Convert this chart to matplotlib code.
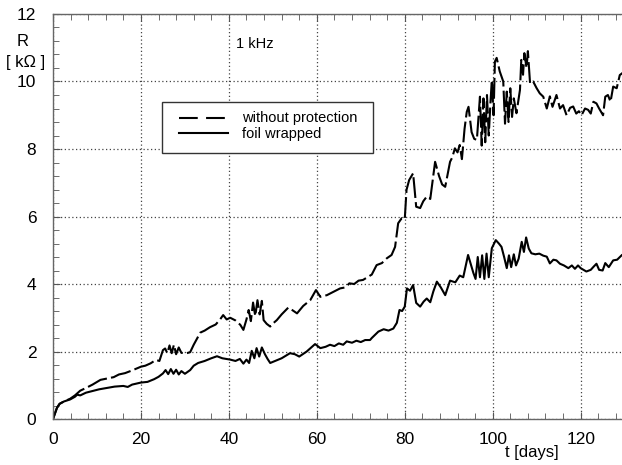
import numpy as np
import matplotlib.pyplot as plt
from matplotlib.patches import Rectangle
from matplotlib.ticker import MultipleLocator

plt.rcParams['font.family'] = ['Liberation Sans', 'DejaVu Sans']

# foil wrapped sample, resistance at 1 kHz
t_foil = [0, 0.4, 0.9, 1.5, 2.5, 3.9, 5, 5.5, 6.2, 7.5, 9, 10.5, 12.2, 14, 16, 17, 18, 20, 21.5, 23, 24, 25,
          25.6, 26.2, 26.8, 27.4, 28, 28.6, 29.2, 30, 31.2, 32, 33, 34.5, 36, 37.3, 38.5, 40.3, 41.5, 42.5,
          43.3, 44, 44.6, 45.2, 45.8, 46.3, 46.9, 47.5, 48.2, 48.8, 49.4, 50.5, 52, 53.9, 55, 56, 57.7, 59.6,
          60.8, 62, 63, 64, 65, 66, 66.8, 68, 69, 70, 71, 72.1, 72.5, 74, 75.2, 76.3, 77.4, 78.2, 78.8, 79.4,
          80, 80.5, 81.2, 81.9, 82.6, 83.5, 84.3, 85, 85.8, 86.5, 87.3, 88.2, 89.2, 90.3, 91.5, 92.5, 93.3,
          94.4, 95.6, 96.1, 96.6, 97.1, 97.6, 98.1, 98.6, 99.1, 99.8, 100.7, 101.4, 102, 102.6, 103.2, 103.7,
          104.2, 104.8, 105.3, 105.9, 106.6, 107.1, 107.6, 108.2, 108.8, 109.7, 110.6, 111.5, 112.3, 113,
          113.8, 114.5, 115.3, 116.2, 117.2, 118, 118.7, 119.4, 120, 121.3, 122.3, 123, 123.6, 124.2, 125,
          125.6, 126.4, 127.4, 128.3, 129.4, 130]
r_foil = [0.0, 0.15, 0.33, 0.45, 0.52, 0.58, 0.66, 0.72, 0.70, 0.78, 0.83, 0.88, 0.92, 0.96, 0.98, 0.95, 1.02,
          1.08, 1.10, 1.18, 1.25, 1.35, 1.45, 1.33, 1.48, 1.34, 1.46, 1.32, 1.42, 1.34, 1.45, 1.58, 1.66, 1.72,
          1.80, 1.86, 1.80, 1.76, 1.72, 1.78, 1.64, 1.76, 1.66, 2.02, 1.80, 2.10, 1.85, 2.12, 1.92, 1.78, 1.66,
          1.72, 1.80, 1.95, 1.92, 1.85, 2.00, 2.22, 2.10, 2.14, 2.20, 2.16, 2.24, 2.20, 2.30, 2.26, 2.32, 2.28,
          2.34, 2.34, 2.40, 2.59, 2.66, 2.62, 2.68, 2.85, 3.23, 3.20, 3.33, 3.87, 3.80, 3.97, 3.44, 3.33, 3.48,
          3.57, 3.46, 3.78, 4.07, 3.90, 3.67, 4.10, 4.05, 4.25, 4.20, 4.86, 4.33, 4.15, 4.80, 4.20, 4.85, 4.15,
          4.90, 4.20, 5.06, 5.30, 5.20, 5.10, 4.80, 4.47, 4.85, 4.50, 4.88, 4.55, 4.75, 5.25, 4.95, 5.38, 5.05,
          4.91, 4.88, 4.90, 4.84, 4.81, 4.61, 4.72, 4.70, 4.60, 4.55, 4.47, 4.55, 4.45, 4.55, 4.47, 4.37, 4.42,
          4.52, 4.60, 4.42, 4.40, 4.62, 4.50, 4.70, 4.72, 4.86, 4.90]

# unprotected sample
t_bare = [0, 0.4, 0.9, 1.5, 2.5, 3.9, 5, 6.2, 7.5, 9, 10.8, 12.3, 13.8, 15, 16.4, 18, 20, 21, 22.2, 23.4, 24.2,
          25, 25.5, 26, 26.5, 27, 27.5, 28, 28.6, 29.2, 30.4, 31.2, 32, 33.5, 34.5, 35.7, 37, 38, 38.7, 39.5,
          40.3, 41.5, 42.6, 43.3, 44, 44.5, 45, 45.5, 46, 46.5, 47, 47.5, 47.9, 48.6, 49.4, 50.2, 50.9, 52,
          53.5, 54.5, 55.5, 56.9, 58.5, 59.8, 60.8, 62.3, 63.8, 65.3, 66.5, 67.4, 68.5, 69.5, 70.5, 71.5, 72.5,
          73.6, 74.8, 75.9, 77, 77.8, 78.2, 78.5, 79.3, 80, 80.4, 81, 81.9, 82.6, 83.5, 84.2, 85, 85.8, 86.9,
          87.8, 88.5, 89.2, 90.3, 90.8, 91.4, 92, 92.5, 93, 93.6, 94.1, 94.5, 95.2, 95.8, 96.4, 97.1, 97.5,
          97.9, 98.3, 98.7, 99.1, 99.5, 99.8, 100.2, 100.5, 100.9, 101.6, 102.4, 102.8, 103.2, 103.6, 104.0,
          104.4, 104.8, 105.4, 106.2, 106.5, 106.9, 107.2, 107.7, 108, 108.5, 109.2, 110, 110.7, 111.5, 112.3,
          113, 113.6, 114.5, 115.3, 116, 116.8, 117.6, 118.3, 119, 119.6, 120.2, 121, 121.7, 122.3, 122.9,
          123.6, 124.2, 125.1, 125.6, 126.2, 126.8, 127.4, 128.2, 128.9, 129.5, 130]
r_bare = [0.0, 0.15, 0.33, 0.45, 0.52, 0.60, 0.70, 0.84, 0.92, 1.02, 1.16, 1.20, 1.24, 1.32, 1.36, 1.44, 1.55,
          1.58, 1.65, 1.75, 1.72, 2.04, 2.09, 1.95, 2.18, 1.95, 2.20, 1.92, 2.12, 1.96, 1.95, 1.98, 2.20, 2.56,
          2.62, 2.72, 2.80, 2.95, 3.08, 2.95, 3.00, 2.92, 2.79, 2.64, 2.95, 3.23, 2.90, 3.45, 3.05, 3.52, 3.10,
          3.50, 2.93, 2.82, 2.74, 2.85, 2.93, 3.10, 3.30, 3.22, 3.13, 3.35, 3.52, 3.82, 3.62, 3.67, 3.77, 3.87,
          3.90, 4.02, 4.00, 4.10, 4.12, 4.20, 4.28, 4.56, 4.62, 4.76, 4.86, 5.10, 5.50, 5.80, 5.95, 5.92, 6.79,
          7.08, 7.28, 6.29, 6.25, 6.45, 6.59, 6.52, 7.62, 7.20, 6.95, 6.88, 7.62, 7.75, 8.02, 7.90, 8.12, 7.70,
          8.60, 9.10, 9.25, 8.50, 8.30, 8.27, 9.55, 8.10, 9.50, 8.20, 9.60, 8.40, 9.40, 10.04, 9.00, 10.59,
          10.70, 10.30, 10.00, 8.75, 9.70, 8.80, 9.80, 8.95, 9.50, 9.06, 9.75, 10.64, 10.20, 10.84, 10.40,
          10.90, 9.94, 10.00, 9.80, 9.65, 9.55, 9.20, 9.56, 9.25, 9.60, 9.20, 9.30, 9.00, 9.22, 9.26, 9.05,
          9.12, 9.00, 9.20, 9.16, 9.05, 9.40, 9.35, 9.20, 9.00, 9.55, 9.60, 9.40, 9.85, 9.80, 10.19, 10.25,
          10.30]

fig = plt.figure(figsize=(6.22, 4.65), dpi=100)
ax = fig.add_axes([0.0852, 0.0989, 0.919, 0.871])

ax.plot(t_bare, r_bare, color='black', lw=1.5, dashes=(10, 2))
ax.plot(t_foil, r_foil, color='black', lw=1.5)

ax.set_xlim(0, 130)
ax.set_ylim(0, 12)
ax.xaxis.set_major_locator(MultipleLocator(20))
ax.xaxis.set_minor_locator(MultipleLocator(4))
ax.yaxis.set_major_locator(MultipleLocator(2))
ax.yaxis.set_minor_locator(MultipleLocator(0.4))
ax.grid(True, which='major', color='#444444', linestyle=(0, (1, 2)), lw=0.9)
ax.tick_params(which='both', direction='in', top=True, right=False, colors='#555555',
               labelcolor='black', labelsize=12.5)
ax.tick_params(which='major', length=5)
ax.tick_params(which='minor', length=4)
ax.tick_params(axis='y', pad=12)
ax.tick_params(axis='x', pad=9)
for s in ax.spines.values():
    s.set_color('#666666')
    s.set_linewidth(1.0)

fig.text(23 / 622, 1 - 42 / 465, 'R', ha='center', va='center', fontsize=12)
fig.text(26 / 622, 1 - 62 / 465, '[ k\u03a9 ]', ha='center', va='center', fontsize=12)
fig.text(532 / 622, 1 - 452 / 465, 't [days]', ha='center', va='center', fontsize=12)
ax.text(46, 11.1, '1 kHz', ha='center', va='center', fontsize=10.5)

# legend box drawn by hand
ax.add_patch(Rectangle((0.191, 0.658), 0.368, 0.124, transform=ax.transAxes,
                       facecolor='white', edgecolor='#333333', lw=1.0, zorder=5))
ax.plot([0.220, 0.307], [0.743, 0.743], transform=ax.transAxes, color='black', lw=1.5,
        dashes=(9, 4), zorder=6)
ax.plot([0.220, 0.307], [0.706, 0.706], transform=ax.transAxes, color='black', lw=1.5, zorder=6)
ax.text(0.331, 0.743, 'without protection', transform=ax.transAxes, va='center', fontsize=10.5, zorder=6)
ax.text(0.331, 0.704, 'foil wrapped', transform=ax.transAxes, va='center', fontsize=10.5, zorder=6)

fig.savefig('out.png', dpi=100)
